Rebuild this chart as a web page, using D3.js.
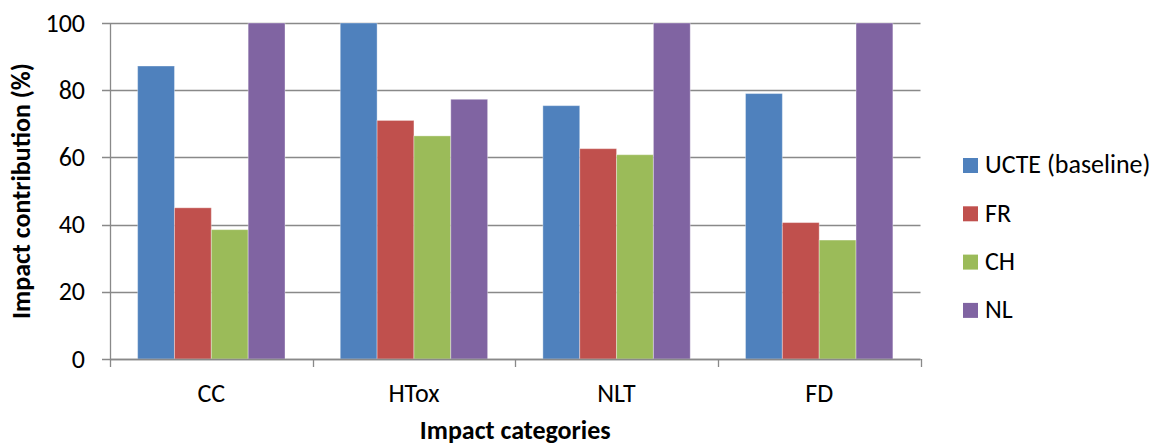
<!DOCTYPE html>
<html>
<head>
<meta charset="utf-8">
<script src="https://cdn.jsdelivr.net/npm/d3@7"></script>
<style>
  body { margin: 0; background: #fff; }
  text { font-family: Carlito, Calibri, "Liberation Sans", sans-serif; fill: #000; }
</style>
</head>
<body>
<svg id="chart" width="1159" height="445"></svg>
<script>
// Impact categories on the x axis
const categories = ["CC", "HTox", "NLT", "FD"];
// Electricity mix scenarios
const seriesNames = ["UCTE (baseline)", "FR", "CH", "NL"];
const seriesColors = ["#4F81BD", "#C0504D", "#9BBB59", "#8064A2"];
// Impact contribution (%) per scenario, one value per category
const ucte = [87.2, 100, 75.4, 79.0];
const fr   = [45.0, 71.0, 62.6, 40.6];
const ch   = [38.5, 66.4, 60.8, 35.4];
const nl   = [100, 77.3, 100, 100];
const yTicks = [0, 20, 40, 60, 80, 100];

const values = [ucte, fr, ch, nl];

const svg = d3.select("#chart");
const plot = { left: 110, right: 920.5, top: 23, bottom: 359 };

const x0 = d3.scaleBand().domain(categories).range([plot.left, plot.right]).padding(0);
const x1 = d3.scaleBand().domain(seriesNames).range([0, x0.bandwidth()])
  .paddingInner(0).paddingOuter(0.75);
const y = d3.scaleLinear().domain([0, 100]).range([plot.bottom, plot.top]);

const gridColor = "#898989";

// horizontal gridlines (with short ticks left of the axis)
svg.append("g")
  .selectAll("line")
  .data(yTicks)
  .join("line")
  .attr("x1", plot.left - 8)
  .attr("x2", plot.right)
  .attr("y1", d => Math.round(y(d)) + 0.5)
  .attr("y2", d => Math.round(y(d)) + 0.5)
  .attr("stroke", gridColor)
  .attr("stroke-width", 1.3);

// y tick labels
svg.append("g")
  .selectAll("text")
  .data(yTicks)
  .join("text")
  .attr("x", 85)
  .attr("y", d => y(d) + 8.5)
  .attr("text-anchor", "end")
  .style("font-size", "26px")
  .text(d => d);

// bars
const groups = svg.append("g")
  .selectAll("g")
  .data(categories)
  .join("g")
  .attr("transform", d => `translate(${x0(d)},0)`);

groups.selectAll("rect")
  .data((c, ci) => seriesNames.map((s, si) => ({ s, si, v: values[si][ci] })))
  .join("rect")
  .attr("x", d => x1(d.s))
  .attr("width", x1.bandwidth())
  .attr("y", d => y(d.v))
  .attr("height", d => y(0) - y(d.v))
  .attr("fill", d => seriesColors[d.si])
  .attr("stroke", "#ffffff")
  .attr("stroke-opacity", 0.35)
  .attr("stroke-width", 1);

// y axis line
svg.append("line")
  .attr("x1", plot.left + 0.5).attr("x2", plot.left + 0.5)
  .attr("y1", plot.top).attr("y2", plot.bottom)
  .attr("stroke", gridColor).attr("stroke-width", 1.3);

// x axis line and category boundary ticks
svg.append("line")
  .attr("x1", plot.left).attr("x2", plot.right)
  .attr("y1", Math.round(y(0)) + 0.5).attr("y2", Math.round(y(0)) + 0.5)
  .attr("stroke", gridColor).attr("stroke-width", 1.5);

const boundaries = categories.map(c => x0(c)).concat([plot.right]);
svg.append("g")
  .selectAll("line")
  .data(boundaries)
  .join("line")
  .attr("x1", d => Math.round(d) + 0.5)
  .attr("x2", d => Math.round(d) + 0.5)
  .attr("y1", y(0))
  .attr("y2", y(0) + 8)
  .attr("stroke", gridColor)
  .attr("stroke-width", 1.3);

// category labels
svg.append("g")
  .selectAll("text")
  .data(categories)
  .join("text")
  .attr("x", d => x0(d) + x0.bandwidth() / 2)
  .attr("y", 401.5)
  .attr("text-anchor", "middle")
  .style("font-size", "26px")
  .text(d => d);

// axis titles
svg.append("text")
  .attr("x", (plot.left + plot.right) / 2)
  .attr("y", 438.5)
  .attr("text-anchor", "middle")
  .style("font-size", "26px")
  .style("font-weight", "bold")
  .text("Impact categories");

svg.append("text")
  .attr("transform", `translate(30,${(plot.top + plot.bottom) / 2}) rotate(-90)`)
  .attr("text-anchor", "middle")
  .style("font-size", "26px")
  .style("font-weight", "bold")
  .text("Impact contribution (%)");

// legend
const legend = svg.append("g")
  .selectAll("g")
  .data(seriesNames)
  .join("g")
  .attr("transform", (d, i) => `translate(963,${158 + i * 48.3})`);

legend.append("rect")
  .attr("width", 15)
  .attr("height", 15)
  .attr("fill", (d, i) => seriesColors[i]);

legend.append("text")
  .attr("x", 22)
  .attr("y", 15.3)
  .style("font-size", "26px")
  .text(d => d);
</script>
</body>
</html>
